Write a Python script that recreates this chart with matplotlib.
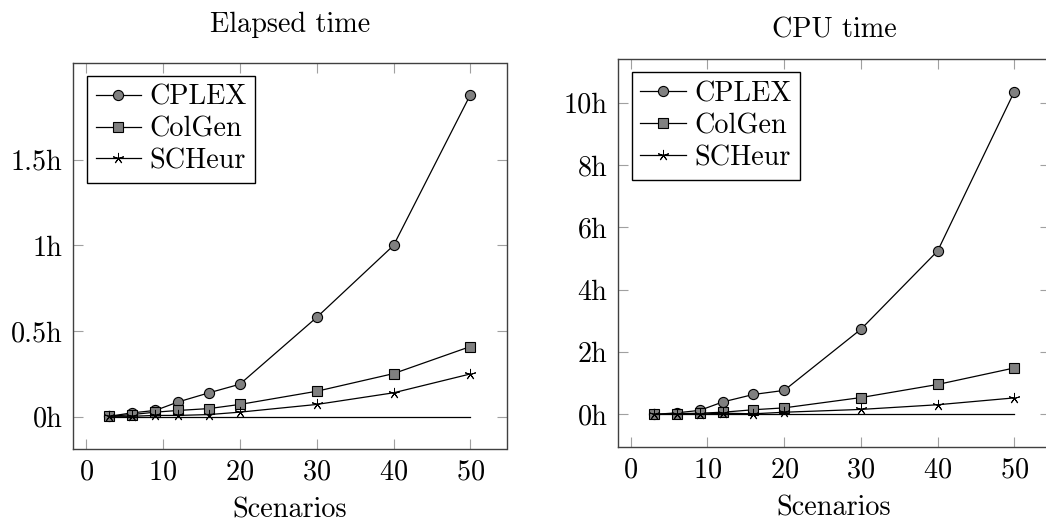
import matplotlib
matplotlib.use("Agg")
import matplotlib.pyplot as plt

plt.rcParams['font.family'] = ['cmr10', 'DejaVu Serif']
plt.rcParams['axes.formatter.use_mathtext'] = True
plt.rcParams['mathtext.fontset'] = 'cm'

scenarios = [3, 6, 9, 12, 16, 20, 30, 40, 50]

# Elapsed time (hours)
elapsed_cplex = [0.003, 0.023, 0.037, 0.087, 0.14, 0.19, 0.58, 1.0, 1.88]
elapsed_colgen = [0.003, 0.013, 0.027, 0.037, 0.048, 0.072, 0.149, 0.252, 0.41]
elapsed_scheur = [0.003, 0.003, 0.008, 0.008, 0.013, 0.027, 0.072, 0.14, 0.25]

# CPU time (hours)
cpu_cplex = [0.0, 0.05, 0.13, 0.40, 0.64, 0.77, 2.73, 5.24, 10.35]
cpu_colgen = [0.0, 0.02, 0.04, 0.07, 0.15, 0.21, 0.54, 0.96, 1.49]
cpu_scheur = [0.0, 0.01, 0.01, 0.04, 0.02, 0.07, 0.16, 0.31, 0.53]

baseline = [0, 0, 0, 0, 0, 0, 0, 0, 0]

series_names = ['CPLEX', 'ColGen', 'SCHeur']

left_yticks = [0, 0.5, 1, 1.5]
left_yticklabels = ['0h', '0.5h', '1h', '1.5h']
right_yticks = [0, 2, 4, 6, 8, 10]
right_yticklabels = ['0h', '2h', '4h', '6h', '8h', '10h']
xticks = [0, 10, 20, 30, 40, 50]

W, H = 1046, 523
fig = plt.figure(figsize=(W / 100, H / 100), dpi=100)

def px_axes(l, r, t, b):
    return fig.add_axes([l / W, 1 - b / H, (r - l) / W, (b - t) / H])

ax1 = px_axes(73, 506.5, 62.5, 449)
ax2 = px_axes(617.7, 1050.4, 59.3, 446.7)

gray = '#808080'
styles = [
    dict(marker='o', markersize=7.3, markerfacecolor=gray, markeredgecolor='black', markeredgewidth=0.8),
    dict(marker='s', markersize=7.3, markerfacecolor=gray, markeredgecolor='black', markeredgewidth=0.8),
    dict(marker=(5, 2, 0), markersize=8.0, markerfacecolor='black', markeredgecolor='black', markeredgewidth=0.7),
]

def draw(ax, data, yticks, yticklabels, title, title_y):
    for vals, name, st in zip(data, series_names, styles):
        ax.plot(scenarios, vals, color='black', lw=0.9, label=name, **st)
    ax.plot(scenarios, baseline, color='black', lw=0.9)
    xmin, xmax = min(scenarios), max(scenarios)
    dx = 0.1 * (xmax - xmin)
    ax.set_xlim(xmin - dx, xmax + dx)
    ymax = max(max(d) for d in data)
    ax.set_ylim(-0.1 * ymax, 1.1 * ymax)
    ax.set_xticks(xticks)
    ax.set_yticks(yticks)
    ax.set_yticklabels(yticklabels)
    ax.tick_params(direction='in', length=7.5, width=0.8, color='#a0a0a0',
                   top=True, right=True, labelsize=20.3, pad=7.5)
    for s in ax.spines.values():
        s.set_color('#404040')
        s.set_linewidth(1.0)
    ax.set_xlabel('Scenarios', fontsize=20.3, labelpad=8.5)
    bb = ax.get_position()
    fig.text(bb.x0 + bb.width / 2, 1 - title_y / H, title, ha='center', va='center', fontsize=20.3)
    leg = ax.legend(loc='upper left', bbox_to_anchor=(0.033, 0.966), borderaxespad=0,
                    fontsize=20.3, frameon=True, fancybox=False, framealpha=1,
                    edgecolor='black', handlelength=1.6, handletextpad=0.3,
                    labelspacing=0.2, borderpad=0.3)
    leg.get_frame().set_linewidth(1.0)

draw(ax1, [elapsed_cplex, elapsed_colgen, elapsed_scheur], left_yticks, left_yticklabels, 'Elapsed time', 25)
draw(ax2, [cpu_cplex, cpu_colgen, cpu_scheur], right_yticks, right_yticklabels, 'CPU time', 30)

fig.savefig('out.png', dpi=100)
